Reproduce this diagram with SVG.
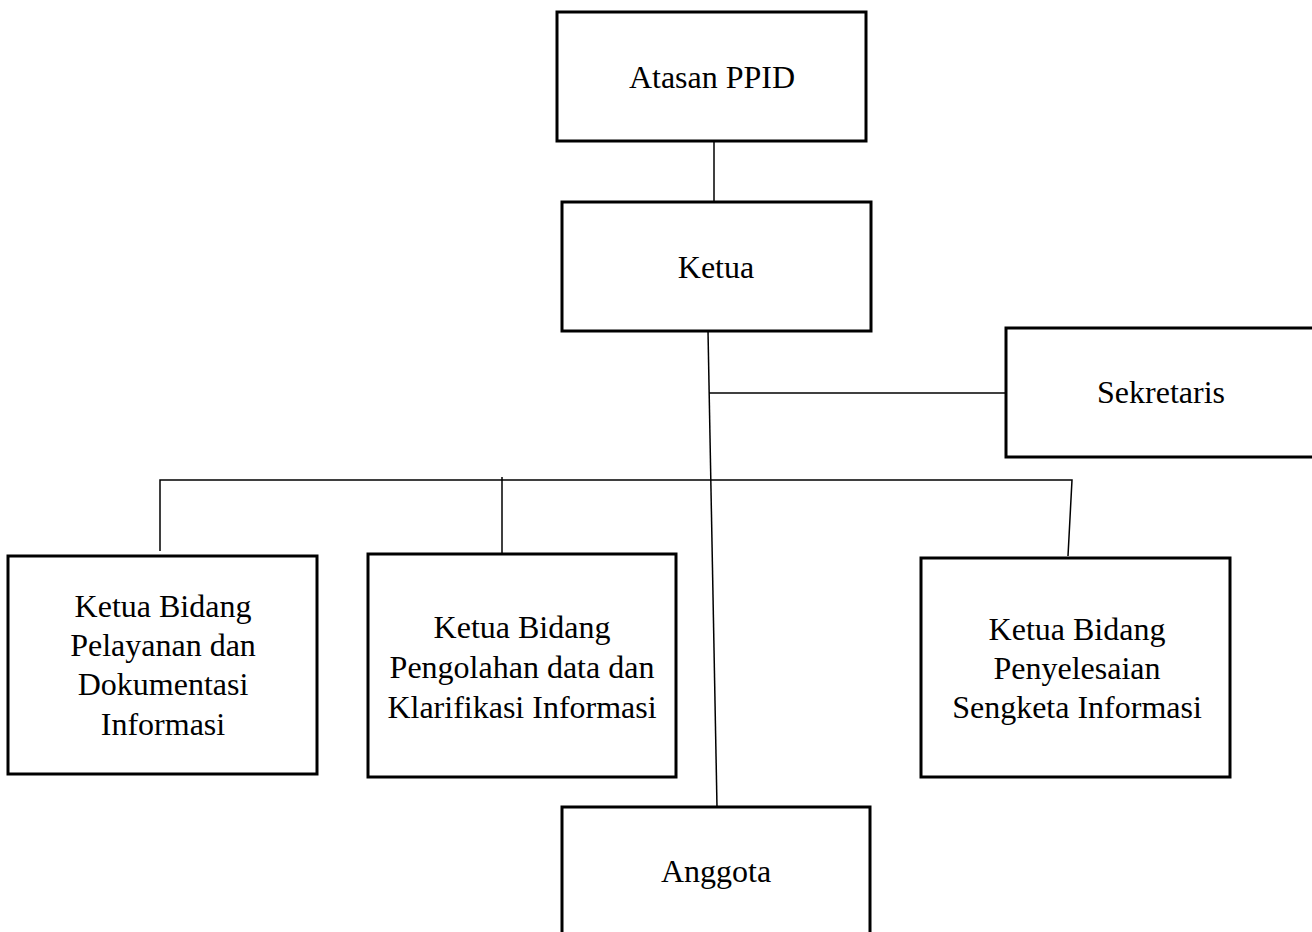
<svg xmlns="http://www.w3.org/2000/svg" width="1312" height="932" viewBox="0 0 1312 932">
<style>
.box{fill:#fff;stroke:#000;stroke-width:3}
.lbl{font-family:"Liberation Serif","Times New Roman",serif;font-size:32px;fill:#000;text-anchor:middle}
.con{fill:none;stroke:#000;stroke-width:1.5}
</style>
<rect width="1312" height="932" fill="#fff"/>
<g id="connectors">
<line class="con" x1="714" y1="141" x2="714" y2="202"/>
<line class="con" x1="708" y1="331" x2="717" y2="807"/>
<line class="con" x1="709" y1="393" x2="1006" y2="393"/>
<polyline class="con" points="160,551 160,480 1072,480 1068,556"/>
<line class="con" x1="502" y1="477" x2="502" y2="553"/>
</g>
<g id="atasan">
<rect class="box" x="557" y="12" width="309" height="129"/>
<text class="lbl" x="712" y="88">Atasan PPID</text>
</g>
<g id="ketua">
<rect class="box" x="562" y="202" width="309" height="129"/>
<text class="lbl" x="716" y="278">Ketua</text>
</g>
<g id="sekretaris">
<rect class="box" x="1006" y="328" width="320" height="129"/>
<text class="lbl" x="1161" y="403">Sekretaris</text>
</g>
<g id="bidang1">
<rect class="box" x="8" y="556" width="309" height="218"/>
<text class="lbl" x="163" y="617">Ketua Bidang</text>
<text class="lbl" x="163" y="656">Pelayanan dan</text>
<text class="lbl" x="163" y="695">Dokumentasi</text>
<text class="lbl" x="163" y="735">Informasi</text>
</g>
<g id="bidang2">
<rect class="box" x="368" y="554" width="308" height="223"/>
<text class="lbl" x="522" y="638">Ketua Bidang</text>
<text class="lbl" x="522" y="678">Pengolahan data dan</text>
<text class="lbl" x="522" y="718">Klarifikasi Informasi</text>
</g>
<g id="bidang3">
<rect class="box" x="921" y="558" width="309" height="219"/>
<text class="lbl" x="1077" y="640">Ketua Bidang</text>
<text class="lbl" x="1077" y="679">Penyelesaian</text>
<text class="lbl" x="1077" y="718">Sengketa Informasi</text>
</g>
<g id="anggota">
<rect class="box" x="562" y="807" width="308" height="140"/>
<text class="lbl" x="716" y="882">Anggota</text>
</g>
</svg>
